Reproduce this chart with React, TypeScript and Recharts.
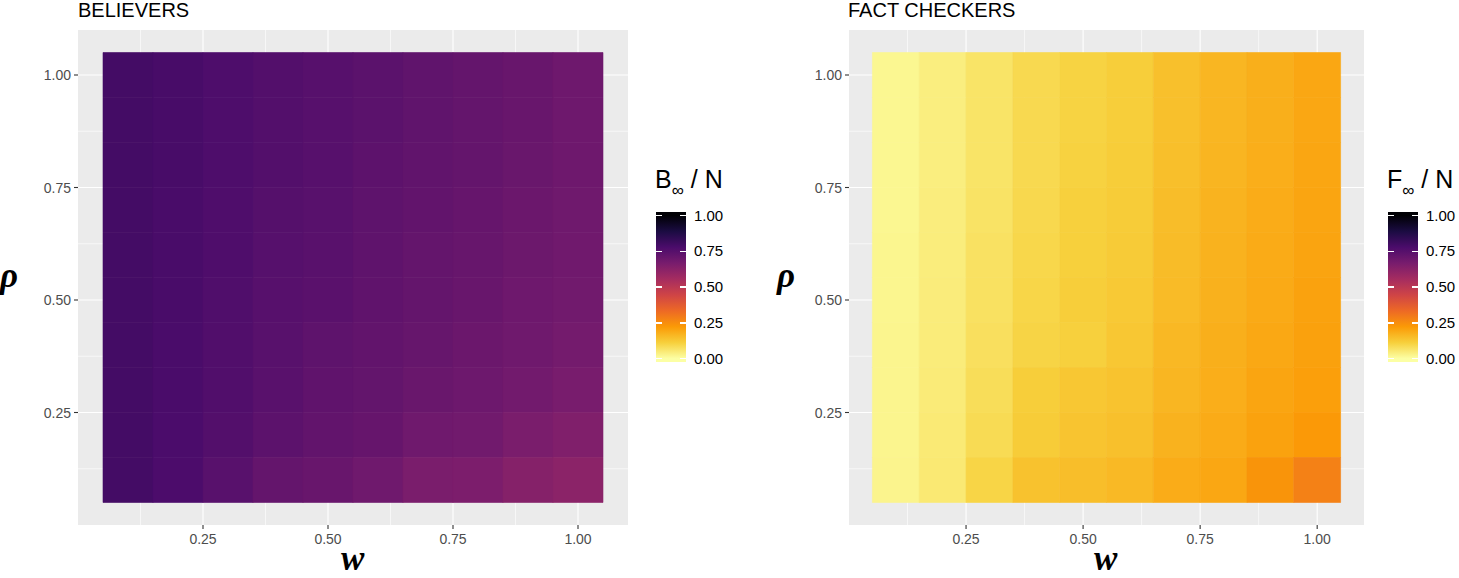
import React from "react";
import { ComposedChart, XAxis, YAxis, CartesianGrid, ReferenceArea } from "recharts";

// grid of parameters: columns are w, rows are rho (top row = 1.0)
const W_VALUES = [0.1, 0.2, 0.3, 0.4, 0.5, 0.6, 0.7, 0.8, 0.9, 1.0];
const RHO_VALUES = [1.0, 0.9, 0.8, 0.7, 0.6, 0.5, 0.4, 0.3, 0.2, 0.1];
const CELL_STEP = 0.1;

// B_inf / N, one row per rho
const BELIEVERS = [
  [0.795, 0.785, 0.77, 0.757, 0.748, 0.738, 0.725, 0.717, 0.707, 0.692],
  [0.795, 0.785, 0.77, 0.757, 0.748, 0.738, 0.725, 0.717, 0.707, 0.692],
  [0.795, 0.785, 0.77, 0.757, 0.748, 0.734, 0.723, 0.715, 0.703, 0.692],
  [0.795, 0.783, 0.768, 0.752, 0.745, 0.732, 0.72, 0.712, 0.7, 0.689],
  [0.795, 0.783, 0.768, 0.75, 0.743, 0.729, 0.717, 0.709, 0.696, 0.687],
  [0.795, 0.782, 0.766, 0.748, 0.741, 0.726, 0.715, 0.705, 0.692, 0.683],
  [0.795, 0.78, 0.764, 0.746, 0.731, 0.722, 0.71, 0.7, 0.688, 0.677],
  [0.795, 0.78, 0.762, 0.742, 0.727, 0.718, 0.703, 0.693, 0.681, 0.667],
  [0.795, 0.778, 0.758, 0.736, 0.721, 0.712, 0.69, 0.684, 0.661, 0.648],
  [0.795, 0.775, 0.746, 0.716, 0.706, 0.69, 0.661, 0.657, 0.634, 0.62],
];

// F_inf / N, one row per rho
const FACT_CHECKERS = [
  [0.02, 0.04, 0.065, 0.09, 0.105, 0.115, 0.145, 0.165, 0.18, 0.195],
  [0.02, 0.04, 0.065, 0.09, 0.105, 0.115, 0.145, 0.165, 0.18, 0.195],
  [0.02, 0.04, 0.065, 0.09, 0.107, 0.117, 0.147, 0.167, 0.182, 0.197],
  [0.02, 0.042, 0.067, 0.092, 0.11, 0.12, 0.15, 0.17, 0.185, 0.2],
  [0.022, 0.043, 0.07, 0.095, 0.112, 0.122, 0.152, 0.172, 0.188, 0.202],
  [0.022, 0.044, 0.072, 0.098, 0.115, 0.125, 0.155, 0.175, 0.19, 0.205],
  [0.023, 0.045, 0.075, 0.102, 0.11, 0.13, 0.16, 0.178, 0.194, 0.208],
  [0.023, 0.047, 0.08, 0.115, 0.13, 0.138, 0.165, 0.182, 0.2, 0.212],
  [0.024, 0.05, 0.085, 0.12, 0.135, 0.145, 0.172, 0.188, 0.205, 0.225],
  [0.025, 0.052, 0.1, 0.14, 0.148, 0.158, 0.185, 0.195, 0.235, 0.28],
];

const AXIS_TICKS = [0.25, 0.5, 0.75, 1.0];
const MINOR_TICKS = [0.125, 0.375, 0.625, 0.875];
const LEGEND_TICKS = [1, 0.75, 0.5, 0.25, 0];

// inferno palette, reversed when mapping values (0 = pale yellow, 1 = black)
const INFERNO = ["#000004", "#1B0C42", "#4B0C6B", "#781C6D", "#A52C60", "#CF4446", "#ED6925", "#FB9A06", "#F7D03C", "#FCFFA4"];

const hexToRgb = (h: string) => [1, 3, 5].map(i => parseInt(h.slice(i, i + 2), 16));

const inferno = (p: number) => {
  const c = Math.max(0, Math.min(1, p)) * (INFERNO.length - 1);
  const i = Math.min(Math.floor(c), INFERNO.length - 2);
  const t = c - i;
  const a = hexToRgb(INFERNO[i]);
  const b = hexToRgb(INFERNO[i + 1]);
  const rgb = a.map((v, k) => Math.round(v + (b[k] - v) * t));
  return `rgb(${rgb.join(",")})`;
};

const fillFor = (v: number) => inferno(1 - v);

const FONT = "'Liberation Sans', Arial, Helvetica, sans-serif";
const MATH_FONT = "'Liberation Serif', 'Times New Roman', serif";

const XTick = ({ x, y, payload }: any) => (
  <text x={x} y={y + 14} textAnchor="middle" fill="#4D4D4D" fontSize={14} fontFamily={FONT}>
    {Number(payload.value).toFixed(2)}
  </text>
);

const YTick = ({ x, y, payload }: any) => (
  <text x={x} y={y + 5} textAnchor="end" fill="#4D4D4D" fontSize={14} fontFamily={FONT}>
    {Number(payload.value).toFixed(2)}
  </text>
);

function Heatmap({ values, width, axisWidth }: { values: number[][]; width: number; axisWidth: number }) {
  const half = CELL_STEP / 2;
  return (
    <ComposedChart width={width} height={578} margin={{ top: 30, right: 12, bottom: 23, left: 0 }}>
      <CartesianGrid
        fill="#EBEBEB"
        fillOpacity={1}
        stroke="#FFFFFF"
        strokeWidth={1.1}
        horizontalValues={AXIS_TICKS}
        verticalValues={AXIS_TICKS}
      />
      <CartesianGrid stroke="#FFFFFF" strokeWidth={0.6} horizontalValues={MINOR_TICKS} verticalValues={MINOR_TICKS} />
      <XAxis
        type="number"
        dataKey="w"
        domain={[0, 1.1]}
        ticks={AXIS_TICKS}
        axisLine={false}
        tickLine={{ stroke: "#333333", strokeWidth: 1.1 }}
        tickSize={4}
        tickMargin={1}
        tick={<XTick />}
        height={30}
        allowDataOverflow
      />
      <YAxis
        type="number"
        dataKey="rho"
        domain={[0, 1.1]}
        ticks={AXIS_TICKS}
        axisLine={false}
        tickLine={{ stroke: "#333333", strokeWidth: 1.1 }}
        tickSize={4}
        tickMargin={3}
        tick={<YTick />}
        width={axisWidth}
        allowDataOverflow
      />
      {RHO_VALUES.map((rho, r) =>
        W_VALUES.map((w, c) => {
          const col = fillFor(values[r][c]);
          return (
            <ReferenceArea
              key={`${r}-${c}`}
              x1={w - half}
              x2={w + half}
              y1={rho - half}
              y2={rho + half}
              fill={col}
              fillOpacity={1}
              stroke={col}
              strokeWidth={0.6}
              ifOverflow="visible"
            />
          );
        })
      )}
    </ComposedChart>
  );
}

function ColorBar({ left, letter }: { left: number; letter: string }) {
  const barTop = 212;
  const barHeight = 150;
  const inset = 3.5;
  const span = barHeight - 2 * inset;
  const stops = INFERNO.map((_, i) => {
    const v = i / (INFERNO.length - 1);
    const pct = ((inset + v * span) / barHeight) * 100;
    return `${fillFor(v)} ${pct.toFixed(1)}%`;
  });
  return (
    <div style={{ position: "absolute", left, top: 0, fontFamily: FONT, color: "#000" }}>
      <div style={{ position: "absolute", left: -1, top: 165, fontSize: 25, whiteSpace: "nowrap", lineHeight: "28px" }}>
        {letter}
        <span style={{ fontSize: 17, position: "relative", top: 8 }}>∞</span>
        {" / N"}
      </div>
      <div
        style={{
          position: "absolute",
          left: 0,
          top: barTop,
          width: 30,
          height: barHeight,
          background: `linear-gradient(to top, ${stops.join(", ")})`,
        }}
      />
      {LEGEND_TICKS.map(v => {
        const y = barTop + barHeight - inset - v * span;
        return (
          <React.Fragment key={v}>
            <div style={{ position: "absolute", left: 0, top: y - 0.75, width: 6, height: 1.5, background: "#fff" }} />
            <div style={{ position: "absolute", left: 24, top: y - 0.75, width: 6, height: 1.5, background: "#fff" }} />
            <div style={{ position: "absolute", left: 38, top: y - 9, fontSize: 15, lineHeight: "18px" }}>{v.toFixed(2)}</div>
          </React.Fragment>
        );
      })}
    </div>
  );
}

const titleStyle: React.CSSProperties = {
  position: "absolute",
  top: -2,
  fontFamily: FONT,
  fontSize: 20,
  lineHeight: "24px",
  color: "#000",
  whiteSpace: "nowrap",
};

const mathStyle: React.CSSProperties = {
  position: "absolute",
  fontFamily: MATH_FONT,
  fontStyle: "italic",
  fontWeight: "bold",
  fontSize: 35,
  lineHeight: "26px",
  color: "#000",
};

export default function App() {
  return (
    <div style={{ position: "absolute", left: 0, top: 0, width: 1459, height: 578, background: "#fff", overflow: "hidden" }}>
      <div style={{ position: "absolute", left: 0, top: 0 }}>
        <Heatmap values={BELIEVERS} width={640} axisWidth={78} />
      </div>
      <div style={{ position: "absolute", left: 770, top: 0 }}>
        <Heatmap values={FACT_CHECKERS} width={606} axisWidth={79} />
      </div>

      <div style={{ ...titleStyle, left: 78 }}>BELIEVERS</div>
      <div style={{ ...titleStyle, left: 848 }}>FACT CHECKERS</div>

      <div style={{ ...mathStyle, left: 0, top: 263 }}>ρ</div>
      <div style={{ ...mathStyle, left: 777, top: 263 }}>ρ</div>
      <div style={{ ...mathStyle, left: 341, top: 546 }}>w</div>
      <div style={{ ...mathStyle, left: 1094, top: 546 }}>w</div>

      <ColorBar left={656} letter="B" />
      <ColorBar left={1388} letter="F" />
    </div>
  );
}
